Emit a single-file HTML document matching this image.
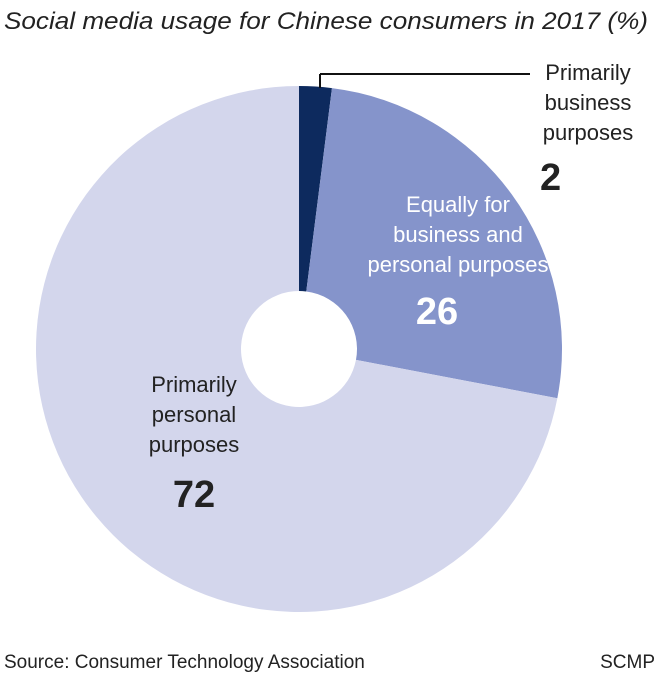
<!DOCTYPE html>
<html><head><meta charset="utf-8"><style>
body{margin:0;background:#fff;width:660px;height:678px;overflow:hidden;font-family:"Liberation Sans",sans-serif}
</style></head><body>
<svg width="660" height="678">
<text x="4" y="29" font-size="24" font-style="italic" fill="#222" textLength="644" lengthAdjust="spacingAndGlyphs">Social media usage for Chinese consumers in 2017 (%)</text>
<g id="slices"></g>
<line x1="320" y1="74" x2="530" y2="74" stroke="#111" stroke-width="2"/>
<line x1="320" y1="74" x2="320" y2="88" stroke="#111" stroke-width="2"/>
<g font-size="22" fill="#222" text-anchor="middle">
<text x="588" y="80">Primarily</text><text x="588" y="110">business</text><text x="588" y="140">purposes</text>
<text x="540" y="190" font-size="38" font-weight="bold" text-anchor="start">2</text></g>
<g font-size="22" fill="#fff" text-anchor="middle">
<text x="458" y="212">Equally for</text><text x="458" y="242">business and</text><text x="458" y="272">personal purposes</text>
<text x="437" y="324" font-size="38" font-weight="bold" text-anchor="middle">26</text></g>
<g font-size="22" fill="#222" text-anchor="middle">
<text x="194" y="392">Primarily</text><text x="194" y="422">personal</text><text x="194" y="452">purposes</text>
<text x="194" y="507" font-size="38" font-weight="bold">72</text></g>
<text x="4" y="668" font-size="19" fill="#222">Source: Consumer Technology Association</text>
<text x="655" y="668" font-size="19" fill="#222" text-anchor="end">SCMP</text>
</svg>
<script>
const categories=["Primarily business purposes","Equally for business and personal purposes","Primarily personal purposes"];
const values=[2,26,72];
const colors=["#0d2a5e","#8594cb","#d3d6ec"];
const cx=299,cy=349,R=263,r=58;
const g=document.getElementById('slices');
const total=values.reduce((a,b)=>a+b,0);
let acc=0;
function pt(a,rad){return [cx+rad*Math.sin(a),cy-rad*Math.cos(a)];}
values.forEach((v,i)=>{
 const a0=acc/total*2*Math.PI;acc+=v;const a1=acc/total*2*Math.PI;
 const lg=(a1-a0)>Math.PI?1:0;
 const p0=pt(a0,R),p1=pt(a1,R),q1=pt(a1,r),q0=pt(a0,r);
 const p=document.createElementNS('http://www.w3.org/2000/svg','path');
 p.setAttribute('d',`M${p0}A${R},${R} 0 ${lg} 1 ${p1}L${q1}A${r},${r} 0 ${lg} 0 ${q0}Z`);
 p.setAttribute('fill',colors[i]);
 
 
 g.appendChild(p);
});
</script>
</body></html>
